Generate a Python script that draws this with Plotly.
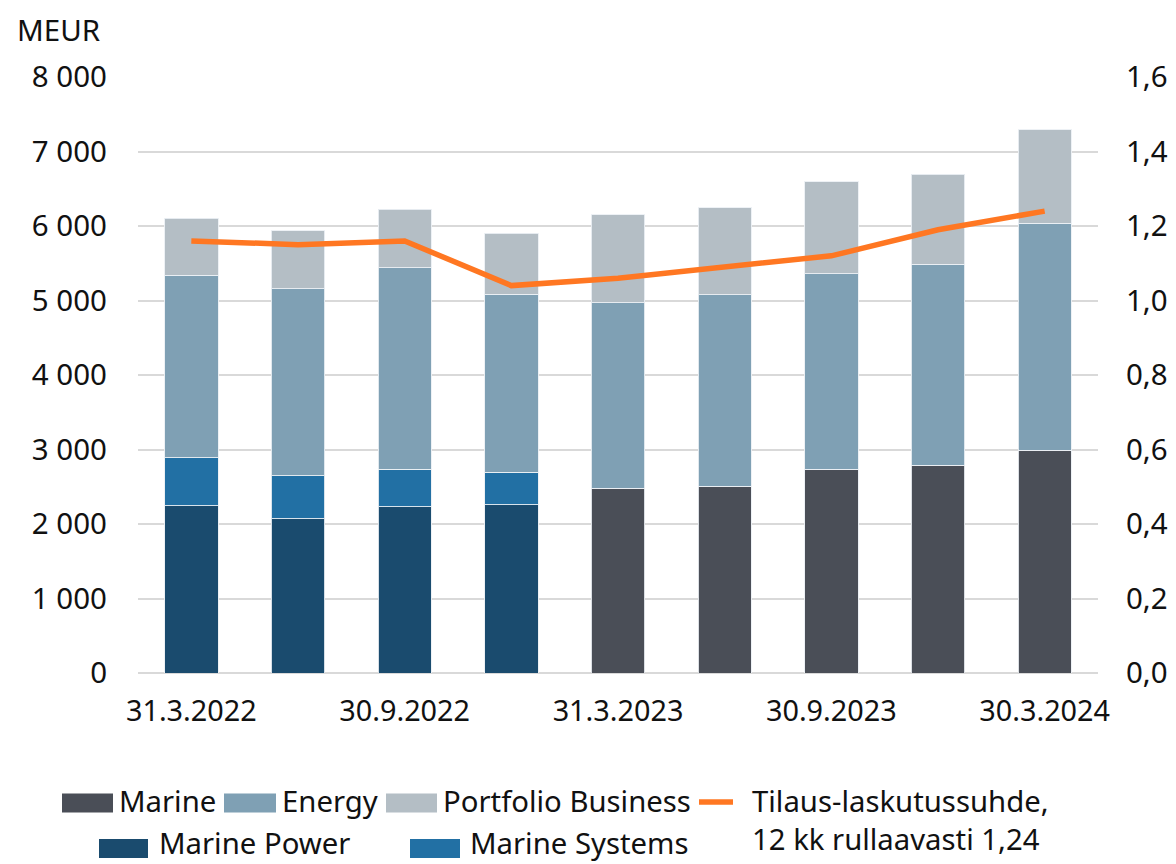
import plotly.graph_objects as go

dates = ["31.3.2022", "30.6.2022", "30.9.2022", "31.12.2022", "31.3.2023",
         "30.6.2023", "30.9.2023", "31.12.2023", "30.3.2024"]
tick_dates = ["31.3.2022", "30.9.2022", "31.3.2023", "30.9.2023", "30.3.2024"]

marine_power = [2245, 2071, 2233, 2259, None, None, None, None, None]
marine_systems = [641, 578, 501, 439, None, None, None, None, None]
marine = [None, None, None, None, 2483, 2510, 2738, 2792, 2993]
energy = [2452, 2509, 2706, 2385, 2487, 2568, 2622, 2698, 3047]
portfolio = [765, 779, 788, 819, 1182, 1168, 1235, 1204, 1253]
book_to_bill = [1.16, 1.15, 1.16, 1.04, 1.06, 1.09, 1.12, 1.19, 1.24]

C_MARINE = "#4a4e57"
C_ENERGY = "#7fa0b4"
C_PORT = "#b4bec5"
C_MP = "#1a4b6e"
C_MS = "#2270a4"
C_LINE = "#ff7722"

FONT = "Noto Sans"
FS_Y = 29.5
FS_X = 28.8
FS_LEG = 29.3
FS_UNIT = 29.5

fig = go.Figure()
line_style = dict(color="rgba(235,240,244,0.9)", width=1)
for name, vals, col in [("Marine Power", marine_power, C_MP),
                        ("Marine Systems", marine_systems, C_MS),
                        ("Marine", marine, C_MARINE),
                        ("Energy", energy, C_ENERGY),
                        ("Portfolio Business", portfolio, C_PORT)]:
    fig.add_trace(go.Bar(x=dates, y=vals, name=name, marker=dict(color=col, line=line_style)))

fig.add_trace(go.Scatter(x=dates, y=book_to_bill, yaxis="y2", mode="lines",
                         name="Tilaus-laskutussuhde, 12 kk rullaavasti 1,24",
                         line=dict(color=C_LINE, width=5.5)))

# page body has an 8px margin; work in screenshot pixels and shift
OFF = 8
FW, FH = 1176, 864
L, R, T, B = 138 - OFF, 1098 - OFF, 77 - OFF, 673 - OFF
W, H = R - L, B - T

def px(x):
    return (x - OFF - L) / W

def py(y):
    return (B - (y - OFF)) / H

shapes = []
annotations = []

def text_at(x, yc, label):
    annotations.append(dict(x=px(x), y=py(yc), xref="paper", yref="paper",
                            text=label, showarrow=False, xanchor="left", yanchor="middle",
                            align="left", borderpad=0,
                            font=dict(family=FONT, size=FS_LEG, color="#111")))

def legend_box(x0, x1, yc, color, label, tx, ty):
    shapes.append(dict(type="rect", xref="paper", yref="paper",
                       x0=px(x0), x1=px(x1), y0=py(yc + 9.5), y1=py(yc - 9.5),
                       fillcolor=color, line=dict(width=0)))
    text_at(tx, ty, label)

legend_box(62, 113, 803, C_MARINE, "Marine", 118, 801)
legend_box(224, 276, 803, C_ENERGY, "Energy", 281, 801)
legend_box(386, 437, 803, C_PORT, "Portfolio Business", 442, 801)
legend_box(99, 148, 848.5, C_MP, "Marine Power", 158, 843)
legend_box(410, 460, 848.5, C_MS, "Marine Systems", 469, 843)

shapes.append(dict(type="line", xref="paper", yref="paper",
                   x0=px(699), x1=px(733), y0=py(802), y1=py(802),
                   line=dict(color=C_LINE, width=5.5)))
text_at(751, 820, "Tilaus-laskutussuhde,<br>12 kk rullaavasti 1,24")

annotations.append(dict(x=px(16), y=py(8), xref="paper", yref="paper",
                        text="MEUR", showarrow=False, xanchor="left", yanchor="top",
                        borderpad=0,
                        font=dict(family=FONT, size=FS_UNIT, color="#111")))

fig.update_layout(
    width=FW, height=FH,
    margin=dict(l=L, r=FW - R, t=T, b=FH - B),
    barmode="stack", bargap=0.5,
    plot_bgcolor="white", paper_bgcolor="white",
    showlegend=False,
    separators=", ",
    font=dict(family=FONT, size=FS_Y, color="#111"),
    xaxis=dict(type="category", tickmode="array", tickvals=tick_dates, ticktext=tick_dates,
               showgrid=False, showline=False, ticks="", ticklabelstandoff=18,
               tickfont=dict(family=FONT, size=FS_X, color="#111")),
    yaxis=dict(range=[0, 8000], tickvals=[0, 1000, 2000, 3000, 4000, 5000, 6000, 7000, 8000],
               tickformat=",d", showgrid=True, gridcolor="#d9d9d9", gridwidth=1.5,
               zeroline=True, zerolinecolor="#d9d9d9", zerolinewidth=1.5,
               showline=False, ticks="", ticklabelstandoff=30,
               tickfont=dict(family=FONT, size=FS_Y, color="#111")),
    yaxis2=dict(range=[0, 1.6], overlaying="y", side="right",
                tickvals=[0, 0.2, 0.4, 0.6, 0.8, 1.0, 1.2, 1.4, 1.6],
                tickformat=".1f", showgrid=False, zeroline=False, showline=False,
                ticks="", ticklabelstandoff=27,
                tickfont=dict(family=FONT, size=FS_Y, color="#111")),
    shapes=shapes,
    annotations=annotations,
)

fig.write_html("out.html")
